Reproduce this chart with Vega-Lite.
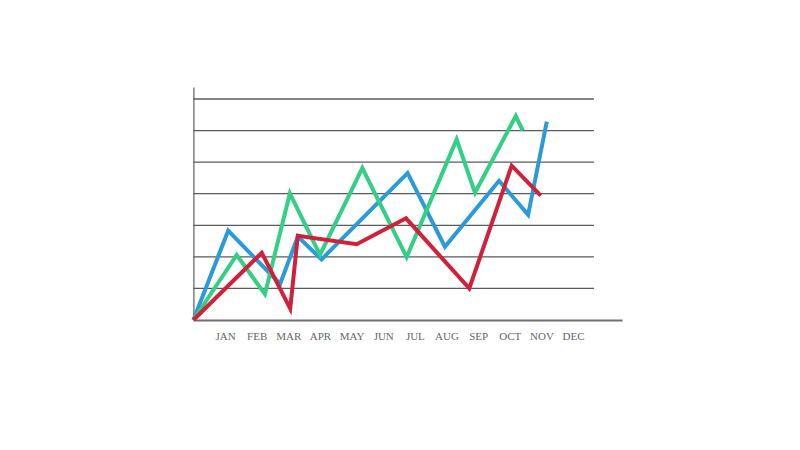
{
  "$schema": "https://vega.github.io/schema/vega-lite/v6.json",
  "autosize": {"type": "none"},
  "width": 428.7,
  "height": 233,
  "padding": {"left": 193.4, "top": 87, "right": 177, "bottom": 130},
  "background": "white",
  "config": {
    "view": {"stroke": null},
    "axis": {"labelOverlap": false, "ticks": false, "grid": false, "title": null},
    "axisX": {
      "labelFont": "Liberation Serif",
      "labelFontSize": 11,
      "labelColor": "#666666",
      "labelPadding": 11,
      "labelOverlap": false,
      "labelBound": false,
      "labelFlush": false,
      "domainColor": "#707070",
      "domainWidth": 2
    },
    "axisY": {"labels": false, "domainColor": "#6a6a6a", "domainWidth": 1.3}
  },
  "datasets": {
    "series": [
      {"s": "blue", "x": 0, "y": 0},
      {"s": "blue", "x": 1.10, "y": 2.83},
      {"s": "blue", "x": 2.74, "y": 1.14},
      {"s": "blue", "x": 3.30, "y": 2.64},
      {"s": "blue", "x": 4.05, "y": 1.92},
      {"s": "blue", "x": 6.77, "y": 4.65},
      {"s": "blue", "x": 7.95, "y": 2.32},
      {"s": "blue", "x": 9.66, "y": 4.41},
      {"s": "blue", "x": 10.58, "y": 3.33},
      {"s": "blue", "x": 11.17, "y": 6.28},
      {"s": "green", "x": 0, "y": 0},
      {"s": "green", "x": 1.37, "y": 2.06},
      {"s": "green", "x": 2.26, "y": 0.82},
      {"s": "green", "x": 3.05, "y": 4.01},
      {"s": "green", "x": 4.00, "y": 2.06},
      {"s": "green", "x": 5.34, "y": 4.81},
      {"s": "green", "x": 6.74, "y": 1.99},
      {"s": "green", "x": 8.32, "y": 5.72},
      {"s": "green", "x": 8.90, "y": 4.03},
      {"s": "green", "x": 10.19, "y": 6.46},
      {"s": "green", "x": 10.41, "y": 6.00},
      {"s": "red", "x": 0, "y": 0},
      {"s": "red", "x": 2.16, "y": 2.13},
      {"s": "red", "x": 3.06, "y": 0.36},
      {"s": "red", "x": 3.30, "y": 2.67},
      {"s": "red", "x": 5.16, "y": 2.40},
      {"s": "red", "x": 6.72, "y": 3.22},
      {"s": "red", "x": 8.72, "y": 1.00},
      {"s": "red", "x": 10.06, "y": 4.89},
      {"s": "red", "x": 10.98, "y": 3.94}
    ],
    "grid": [
      {"y": 1, "x0": 0, "x1": 12.66},
      {"y": 2, "x0": 0, "x1": 12.66},
      {"y": 3, "x0": 0, "x1": 12.66},
      {"y": 4, "x0": 0, "x1": 12.66},
      {"y": 5, "x0": 0, "x1": 12.66},
      {"y": 6, "x0": 0, "x1": 12.66},
      {"y": 7, "x0": 0, "x1": 12.66}
    ]
  },
  "layer": [
    {
      "data": {"name": "grid"},
      "mark": {"type": "rule", "color": "#5a5a5a", "strokeWidth": 1.3},
      "encoding": {
        "x": {
          "field": "x0", "type": "quantitative",
          "scale": {"domain": [0, 13.55], "nice": false, "zero": false},
          "axis": {
            "values": [1,2,3,4,5,6,7,8,9,10,11,12],
            "labelOverlap": false,
            "labelExpr": "['','JAN','FEB','MAR','APR','MAY','JUN','JUL','AUG','SEP','OCT','NOV','DEC'][datum.value]"
          }
        },
        "x2": {"field": "x1"},
        "y": {
          "field": "y", "type": "quantitative",
          "scale": {"domain": [0, 7.38], "nice": false}
        }
      }
    },
    {
      "data": {"name": "series"},
      "mark": {"type": "line", "strokeWidth": 4, "strokeJoin": "miter", "strokeCap": "butt"},
      "encoding": {
        "x": {
          "field": "x", "type": "quantitative",
          "axis": {
            "values": [1,2,3,4,5,6,7,8,9,10,11,12],
            "labelOverlap": false,
            "labelExpr": "['','JAN','FEB','MAR','APR','MAY','JUN','JUL','AUG','SEP','OCT','NOV','DEC'][datum.value]"
          }
        },
        "y": {"field": "y", "type": "quantitative"},
        "color": {
          "field": "s", "type": "nominal",
          "scale": {"domain": ["blue", "green", "red"], "range": ["#2a9bd8", "#33cf84", "#d0213b"]},
          "legend": null
        }
      }
    }
  ]
}
